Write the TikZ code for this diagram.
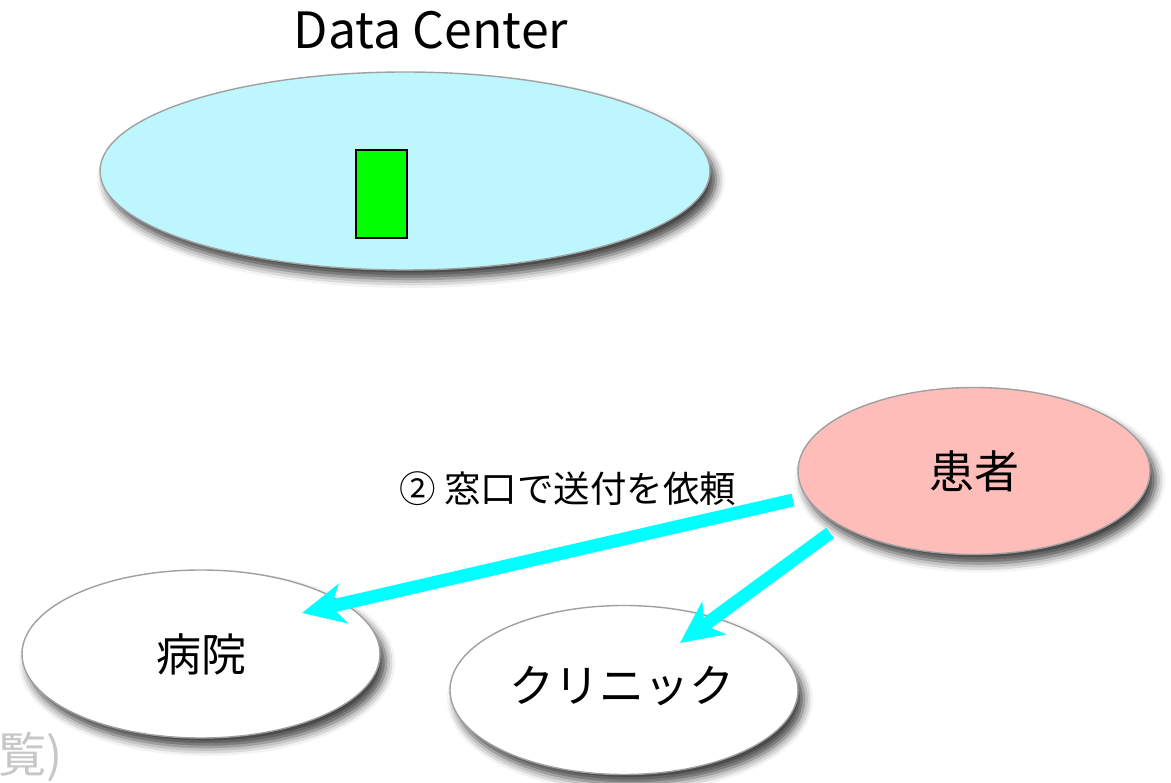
\documentclass[tikz,border=0pt]{standalone}
\usepackage{fontspec}
\setmainfont{Noto Sans CJK JP}
\usetikzlibrary{shapes.geometric,arrows.meta,shadows.blur}
\definecolor{dcblue}{HTML}{BDF7FD}
\definecolor{patpink}{HTML}{FFBDB9}
\definecolor{arrcyan}{HTML}{00FFFF}
\definecolor{edgegray}{HTML}{A0A0A0}
\tikzset{
  oval/.style={ellipse, draw=edgegray, line width=1.4pt, inner sep=0pt,
    blur shadow={shadow xshift=6pt, shadow yshift=-9pt, shadow blur radius=9pt, shadow opacity=75}},
  flow/.style={draw=arrcyan, line width=13pt,
    -{Stealth[length=42pt,width=40pt,inset=12pt]}},
  lbl/.style={font=\fontsize{45}{54}\selectfont, text=black},
}
\begin{document}
\begin{tikzpicture}[x=1pt,y=-1pt]
\useasboundingbox (0,0) rectangle (1171,783);
\node[lbl, font=\fontsize{50}{60}\selectfont] (title) at (431,30) {Data Center};
\node[oval, fill=dcblue, minimum width=610pt, minimum height=198pt] (dc) at (405,171) {};
\node[draw=black, line width=2pt, fill=green, minimum width=51pt, minimum height=88pt, inner sep=0pt] (srv) at (381,194.5) {};
\node[oval, fill=patpink, minimum width=352pt, minimum height=167pt] (pat) at (974,471) {};
\node[lbl] at (974,471) {患者};
\node[oval, fill=white, minimum width=358pt, minimum height=168pt] (hosp) at (201,654) {};
\node[lbl] at (201,654) {病院};
\node[oval, fill=white, minimum width=348pt, minimum height=169pt] (clin) at (624,690) {};
\node[lbl] at (622,686) {クリニック};
\node[font=\fontsize{36.5}{44}\selectfont] (req) at (568,489) {② 窓口で送付を依頼};
\node[font=\fontsize{48}{56}\selectfont, text=black!22, anchor=east] (cut) at (66,757) {覧)};
\coordinate (s1) at (793,500);
\coordinate (e1) at (302,613);
\coordinate (s2) at (830,533);
\coordinate (e2) at (680,643);
\draw[flow] (s1) -- (e1);
\draw[flow] (s2) -- (e2);
\end{tikzpicture}
\end{document}
